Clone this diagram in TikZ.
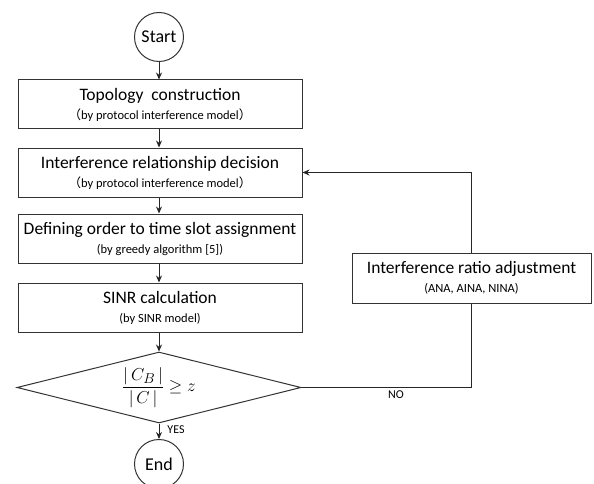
\documentclass[tikz,border=0pt]{standalone}
\usepackage{fontspec}
\setmainfont{Carlito}
\newfontfamily\cjk{Noto Sans CJK SC}
\usetikzlibrary{arrows.meta,shapes.geometric}
\newcommand{\subt}[1]{{\fontsize{12.5}{14}\selectfont #1}}
\newcommand{\fwl}{{\cjk （}}
\newcommand{\fwr}{{\cjk ）}}
\begin{document}
\begin{tikzpicture}[x=1pt,y=-1pt,
 box/.style={draw=black!80,line width=1pt,minimum width=284pt,minimum height=49pt,inner sep=0pt,align=center,font=\fontsize{17.5}{20}\selectfont},
 term/.style={draw=black!80,line width=1pt,circle,minimum size=49pt,inner sep=0pt,font=\fontsize{18}{20}\selectfont},
 arr/.style={draw=black!85,line width=1pt,-{Stealth[length=7pt,width=6pt]}},
 conn/.style={draw=black!85,line width=1pt},
 lbl/.style={font=\fontsize{12}{14}\selectfont,inner sep=0pt}]
\useasboundingbox (0,0) rectangle (594,484);
\node[term] (start) at (159,37) {Start};
\node[box] (b1) at (160,104.5) {Topology\ \ construction\\[-1pt]\subt{\fwl by protocol interference model\fwr}};
\node[box] (b2) at (160,172.5) {Interference relationship decision\\[-1pt]\subt{\fwl by protocol interference model\fwr}};
\node[box] (b3) at (160,238.5) {Defining order to time slot assignment\\[-1pt]\subt{(by greedy algorithm [5])}};
\node[box] (b4) at (160,307.5) {SINR calculation\\[-1pt]\subt{(by SINR model)}};
\node[draw=black!80,line width=1pt,diamond,aspect=4,minimum width=284pt,minimum height=71pt,inner sep=0pt] (dec) at (159,387.5)
  {\fontsize{19}{22}\selectfont$\displaystyle\frac{|\,C_B\,|}{|\,C\,|}\geq z$};
\node[term] (end) at (159,464) {End};
\node[box,minimum width=239pt,minimum height=50pt] (adj) at (471.5,278) {Interference ratio adjustment\\[-1pt]\subt{(ANA, AINA, NINA)}};
\draw[arr] (start.south) -- (start.south |- b1.north);
\draw[arr] (b1.south -| start.south) -- (start.south |- b2.north);
\draw[arr] (b2.south -| start.south) -- (start.south |- b3.north);
\draw[arr] (b3.south -| start.south) -- (start.south |- b4.north);
\draw[arr] (b4.south -| start.south) -- (dec.north);
\draw[arr] (dec.south) -- (end.north);
\draw[conn] (dec.east) -| (adj.south);
\draw[arr] (adj.north) |- (b2.east);
\node[lbl] (no) at (396,395) {NO};
\node[lbl] (yes) at (176,430) {YES};
\end{tikzpicture}
\end{document}
